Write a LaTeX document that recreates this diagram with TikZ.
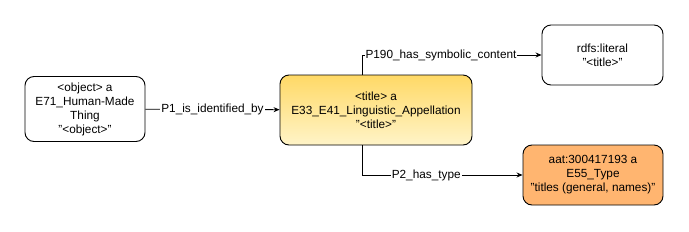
\documentclass[tikz,border=0pt]{standalone}
\usepackage{fontspec}
\setmainfont{Liberation Sans}
\usepackage{tikz}
\usetikzlibrary{arrows.meta,positioning,calc}
\usepackage{xcolor}
\definecolor{goldtop}{HTML}{FFD966}
\definecolor{goldbot}{HTML}{FFF4C8}
\definecolor{typeorange}{HTML}{FFB570}

\begin{document}
\begin{tikzpicture}[x=1pt,y=-1pt,
    box/.style={draw,line width=0.9pt,rounded corners=9pt,align=center,inner sep=2pt,
        font=\fontsize{11.8}{14}\selectfont},
    link/.style={-{Stealth[length=6pt,width=5pt]},line width=0.8pt},
    lbl/.style={fill=white,inner sep=1pt,font=\fontsize{11.8}{14}\selectfont}]
            \useasboundingbox (0,0) rectangle (689,231);

            % Object
            \node[box,minimum width=120pt,minimum height=65pt] (obj) at (85,109)
                {<object> a\\E71\_Human-Made\\Thing\\"<object>"};

            % Title appellation
            \node[box,top color=goldtop,bottom color=goldbot,
                minimum width=192pt,minimum height=70pt] (title) at (376,110)
                {<title> a\\E33\_E41\_Linguistic\_Appellation\\"<title>"};

            % Literal
            \node[box,minimum width=121pt,minimum height=60pt] (lit) at (602.5,55)
                {rdfs:literal\\"<title>"};

            % Type
            \node[box,fill=typeorange,minimum width=140pt,minimum height=60pt] (type) at (593,175)
                {aat:300417193 a\\E55\_Type\\"titles (general, names)"};

            % Links
            \draw[link] (obj) -- node[lbl] {P1\_is\_identified\_by} (title);
            \draw[link] ([xshift=-14pt]title.north) |- node[lbl,pos=0.72] {P190\_has\_symbolic\_content} (lit);
            \draw[link] ([xshift=-14pt]title.south) |- node[lbl,pos=0.70] {P2\_has\_type} (type);
        \end{tikzpicture}
\end{document}
